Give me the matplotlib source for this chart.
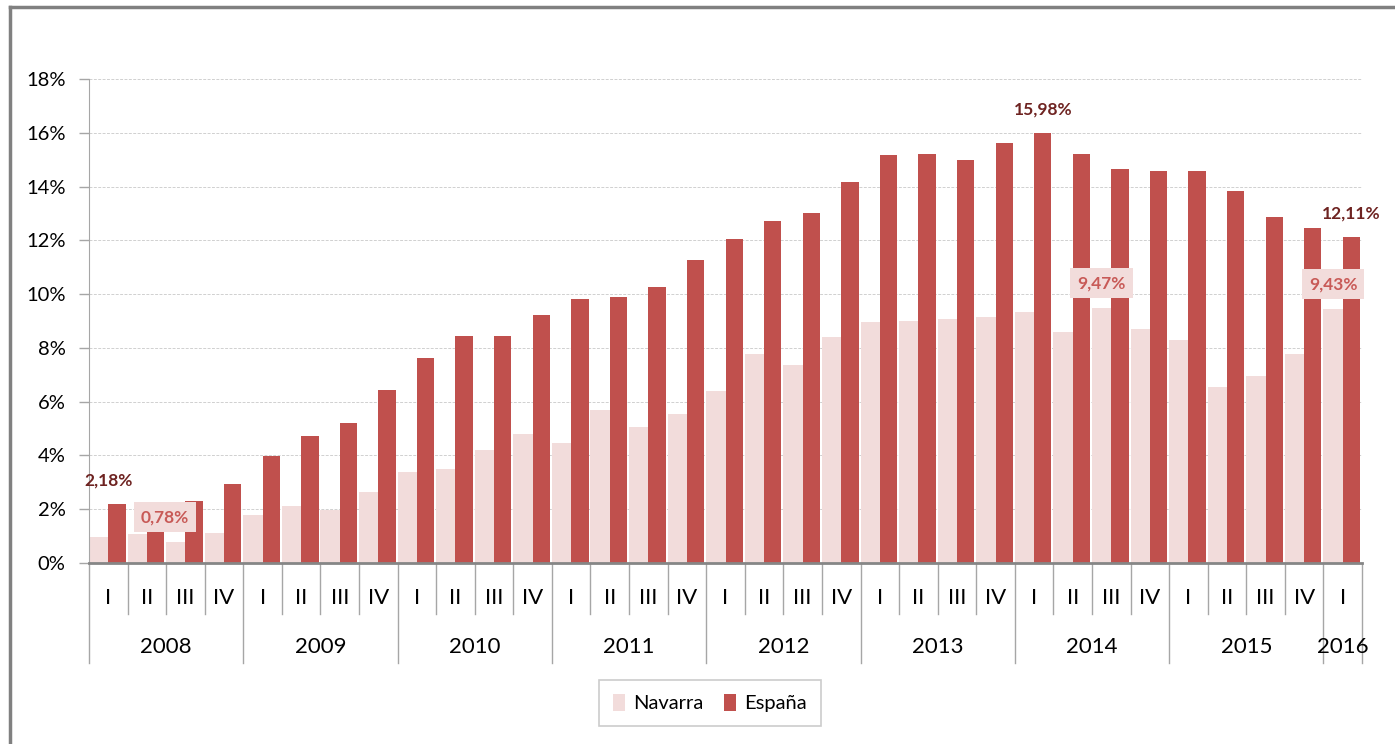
import matplotlib
matplotlib.use('Agg')
import matplotlib.pyplot as plt
from matplotlib.lines import Line2D
import numpy as np

plt.rcParams['font.family'] = ['Lato', 'DejaVu Sans']

###############################################################################
# Data: tasa trimestral (%), 2008 I - 2016 I

years = ['2008', '2009', '2010', '2011', '2012', '2013', '2014', '2015', '2016']
quarters = ['I', 'II', 'III', 'IV'] * 8 + ['I']

navarra = [0.97, 1.08, 0.78, 1.11,
           1.79, 2.12, 1.97, 2.64,
           3.39, 3.50, 4.21, 4.80,
           4.47, 5.70, 5.07, 5.55,
           6.41, 7.78, 7.37, 8.42,
           8.98, 9.01, 9.09, 9.16,
           9.35, 8.59, 9.47, 8.70,
           8.29, 6.54, 6.95, 7.77,
           9.43]
espana = [2.18, 2.20, 2.30, 2.94,
          3.98, 4.72, 5.20, 6.43,
          7.63, 8.45, 8.45, 9.24,
          9.83, 9.90, 10.28, 11.28,
          12.06, 12.73, 13.03, 14.18,
          15.18, 15.22, 15.00, 15.63,
          15.98, 15.20, 14.65, 14.57,
          14.57, 13.83, 12.86, 12.45,
          12.11]

# puntos etiquetados: (indice, desplazamiento x en px)
espana_labels = [(0, -8), (24, 0), (32, 0)]
navarra_labels = [(2, -11), (26, 0), (32, 0)]

###############################################################################

W, H = 1395, 744
fig = plt.figure(figsize=(W / 100, H / 100), dpi=100)
ax = fig.add_axes([89 / W, (H - 563) / H, (1362 - 89) / W, (563 - 79) / H])

n = len(espana)
x = np.arange(n)
ax.bar(x - 0.25, navarra, width=0.50, color='#F2DCDB', label='Navarra',
       zorder=2)
ax.bar(x + 0.225, espana, width=0.45, color='#C0504D', label='España',
       zorder=2)

ax.set_xlim(-0.5, n - 0.5)
ax.set_ylim(0, 18)
ax.set_yticks(range(0, 19, 2))
ax.set_yticklabels(['%d%%' % v for v in range(0, 19, 2)])
ax.yaxis.grid(True, color='#D0D0D0', linestyle=(0, (3, 1.5)), lw=0.7)
ax.set_axisbelow(True)
ax.tick_params(axis='y', length=7, width=1, color='#A6A6A6', pad=10,
               labelsize=14.5, labelcolor='#000000')
ax.set_xticks([])

for s in ['top', 'right']:
    ax.spines[s].set_visible(False)
ax.spines['left'].set_color('#A6A6A6')
ax.spines['bottom'].set_color('#868686')
ax.spines['bottom'].set_linewidth(2)
ax.spines['bottom'].set_zorder(3)

# eje de categorias con dos niveles
tr = ax.get_xaxis_transform()
for i in range(n + 1):
    y_end = -0.207 if (i % 4 == 0 or i == n) else -0.105
    ax.plot([i - 0.5, i - 0.5], [0, y_end], transform=tr, color='#A6A6A6',
            lw=1, clip_on=False)
for i, q in enumerate(quarters):
    ax.text(i, -0.072, q, transform=tr, ha='center', va='center',
            fontsize=16)
for k, yr in enumerate(years):
    idx = [i for i in range(n) if i // 4 == k]
    ax.text(np.mean(idx), -0.174, yr, transform=tr, ha='center',
            va='center', fontsize=16)

# etiquetas de datos
px = 0.72
for i, dx in espana_labels:
    txt = ('%.2f%%' % espana[i]).replace('.', ',')
    ax.annotate(txt, (x[i] + 0.225, espana[i]), xytext=(dx * px, 24 * px),
                textcoords='offset points', ha='center', va='center',
                fontsize=12.5, fontweight='bold', color='#6E2321', zorder=4)
for i, dx in navarra_labels:
    txt = ('%.2f%%' % navarra[i]).replace('.', ',')
    ax.annotate(txt, (x[i] - 0.25, navarra[i]), xytext=(dx * px, 25 * px),
                textcoords='offset points', ha='center', va='center',
                fontsize=12.5, fontweight='bold', color='#C85A57', zorder=4,
                bbox=dict(boxstyle='square,pad=0.4', fc='#F2DCDB', ec='none'))

leg = fig.legend(loc='center', bbox_to_anchor=(710 / W, 1 - 703 / H),
                 ncol=2, frameon=True, fancybox=False, edgecolor='#BFBFBF',
                 fontsize=14.5, handlelength=0.6, handleheight=0.9,
                 handletextpad=0.4, columnspacing=1.0, borderpad=0.7,
                 borderaxespad=0)
leg.get_frame().set_linewidth(1.2)

# marco exterior
fig.add_artist(Line2D([10 / W, 10 / W], [0, 1 - 7 / H],
                      transform=fig.transFigure, color='#808080', lw=2.5))
fig.add_artist(Line2D([10 / W, 1], [1 - 7 / H, 1 - 7 / H],
                      transform=fig.transFigure, color='#808080', lw=2.5))

fig.savefig('out.png', dpi=100)
